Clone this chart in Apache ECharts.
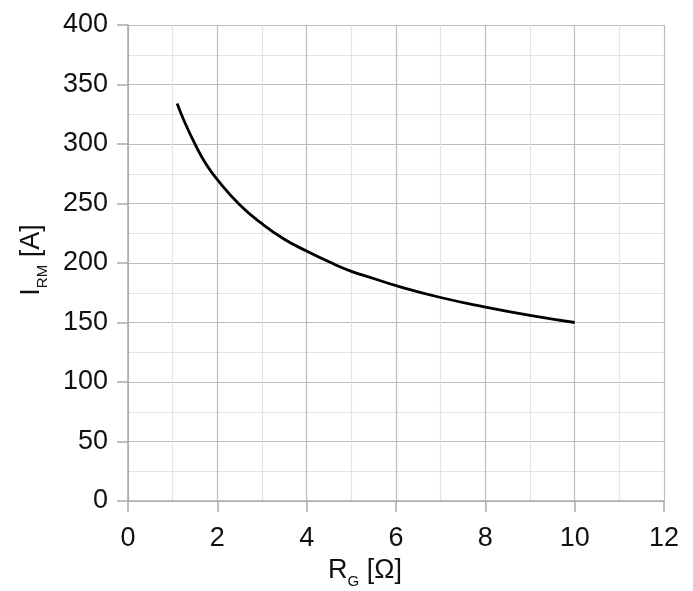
<!DOCTYPE html>
<html>
<head>
<meta charset="utf-8">
<script src="https://cdn.jsdelivr.net/npm/echarts@6/dist/echarts.min.js"></script>
<style>
  html, body { margin: 0; padding: 0; background: #fff; }
  #chart { width: 693px; height: 591px; }
</style>
</head>
<body>
<div id="chart"></div>
<script>
// R_G [Ohm] and I_RM [A]
var rg  = [1.1, 1.25, 1.5, 1.75, 2, 2.5, 3, 3.5, 4, 4.5, 5, 5.5, 6, 7, 8, 9, 10];
var irm = [334, 320, 300, 283, 270, 249, 233, 220, 210, 201, 193, 187, 181, 171, 163, 156, 150];

var font = '"Liberation Sans Narrow", "Liberation Sans", Arial, sans-serif';
var majorColor = '#bdbdbd';
var minorColor = '#e3e3e3';

var points = [];
for (var i = 0; i < rg.length; i++) points.push([rg[i], irm[i]]);

var chart = echarts.init(document.getElementById('chart'));
chart.setOption({
	animation: false,
	grid: { left: 128, right: 29, top: 25, bottom: 90, outerBoundsMode: 'none', containLabel: false },
	xAxis: {
		type: 'value', min: 0, max: 12, interval: 2,
		name: '{m|R}{s|G}{m| [Ω]}',
		nameLocation: 'middle', nameGap: 51,
		nameTextStyle: {
			padding: [0, 62, 0, 0],
			rich: {
				m: { fontFamily: font, fontSize: 27, color: '#111' },
				s: { fontFamily: font, fontSize: 15, color: '#111', padding: [22, 0, 0, 0] }
			}
		},
		axisLine: { lineStyle: { color: '#aaa', width: 1.5 } },
		axisTick: { show: true, length: 11, lineStyle: { color: '#aaa', width: 1.5 } },
		axisLabel: { fontFamily: font, fontSize: 27, color: '#111', margin: 24 },
		splitLine: { lineStyle: { color: majorColor, width: 1.2 } },
		minorTick: { show: false, splitNumber: 2 },
		minorSplitLine: { show: true, lineStyle: { color: minorColor, width: 1.2 } }
	},
	yAxis: {
		type: 'value', min: 0, max: 400, interval: 50,
		name: '{m|I}{s|RM}{m| [A]}',
		nameLocation: 'middle', nameGap: 78,
		nameTextStyle: {
			padding: [0, 0, 0, 6],
			rich: {
				m: { fontFamily: font, fontSize: 27, color: '#111' },
				s: { fontFamily: font, fontSize: 15, color: '#111', padding: [22, 0, 0, 0] }
			}
		},
		axisLine: { show: true, lineStyle: { color: '#aaa', width: 1.5 } },
		axisTick: { show: true, length: 11, lineStyle: { color: '#aaa', width: 1.5 } },
		axisLabel: { fontFamily: font, fontSize: 27, color: '#111', margin: 20 },
		splitLine: { lineStyle: { color: majorColor, width: 1.2 } },
		minorTick: { show: false, splitNumber: 2 },
		minorSplitLine: { show: true, lineStyle: { color: minorColor, width: 1.2 } }
	},
	series: [{
		type: 'line',
		data: points,
		smooth: true,
		showSymbol: false,
		lineStyle: { color: '#000', width: 2.8 }
	}]
});
</script>
</body>
</html>
